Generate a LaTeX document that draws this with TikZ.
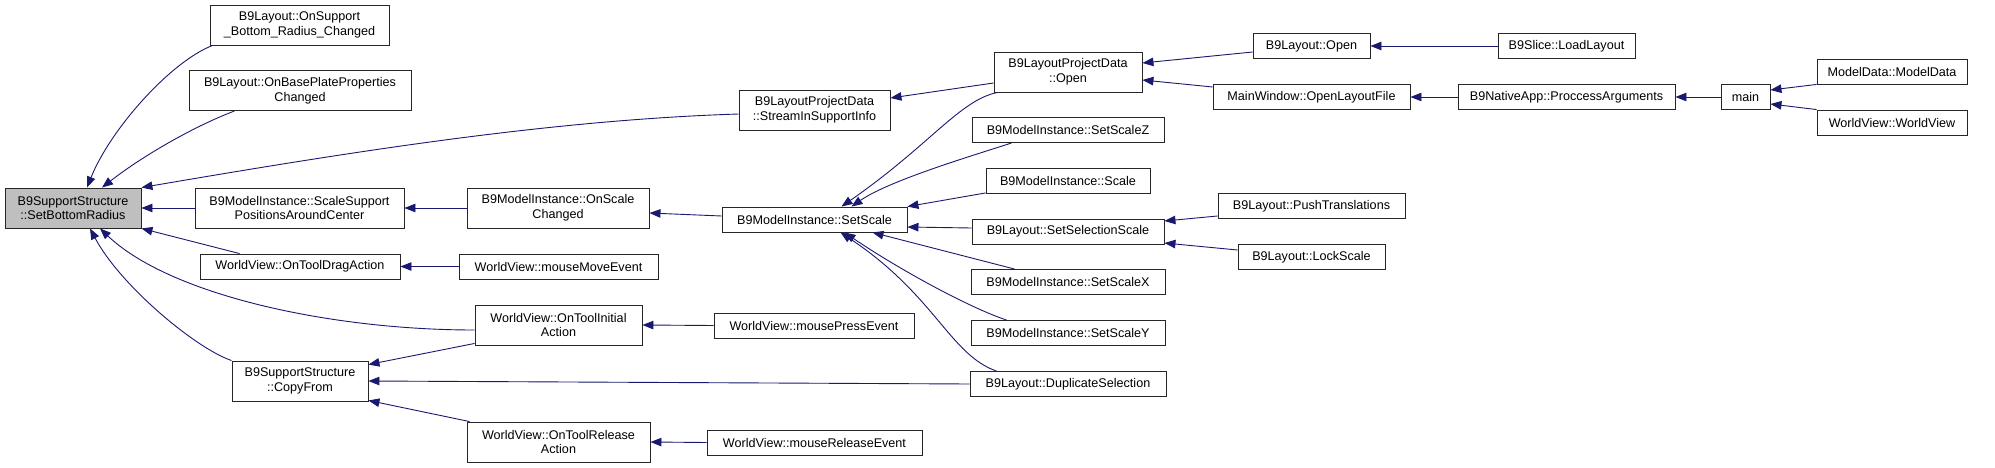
\documentclass[tikz,border=0pt]{standalone}
\usepackage{fontspec}
\setmainfont{Liberation Sans}
\usepackage{tikz}
\usetikzlibrary{arrows.meta,positioning,calc}
\definecolor{edgeblue}{HTML}{191970}
\definecolor{rootgray}{HTML}{BFBFBF}

\begin{document}
\begin{tikzpicture}[x=1pt, y=-1pt,
    fn/.style={draw=black!85, line width=0.9pt, rectangle, inner sep=0pt, align=center, font=\fontsize{12.6}{14.6}\selectfont, minimum height=25pt},
    fntwo/.style={fn, minimum height=40pt},
    root/.style={fntwo, fill=rootgray},
    call/.style={draw=edgeblue, line width=0.9pt, -{Triangle[length=11pt,width=8.5pt]}}
]
\useasboundingbox (0,0) rectangle (1995,468);

\node[root, minimum width=136pt] (sbr) at (73,208) {B9SupportStructure\\::SetBottomRadius};
\node[fntwo, minimum width=179pt] (osbrc) at (299.5,25) {B9Layout::OnSupport\\\_Bottom\_Radius\_Changed};
\node[fntwo, minimum width=222pt] (obpp) at (300,90.5) {B9Layout::OnBasePlateProperties\\Changed};
\node[fntwo, minimum width=209pt] (ssp) at (299.5,208) {B9ModelInstance::ScaleSupport\\PositionsAroundCenter};
\node[fn, minimum width=200pt] (otda) at (300,266.5) {WorldView::OnToolDragAction};
\node[fntwo, minimum width=136pt] (cf) at (300,381) {B9SupportStructure\\::CopyFrom};

\node[fntwo, minimum width=151pt] (sisi) at (814.5,110) {B9LayoutProjectData\\::StreamInSupportInfo};
\node[fntwo, minimum width=182pt] (osc) at (558,208) {B9ModelInstance::OnScale\\Changed};
\node[fn, minimum width=199pt] (mme) at (558.5,266.5) {WorldView::mouseMoveEvent};
\node[fntwo, minimum width=167pt] (otia) at (558.5,325) {WorldView::OnToolInitial\\Action};
\node[fntwo, minimum width=183pt] (otra) at (558.5,442) {WorldView::OnToolRelease\\Action};

\node[fn, minimum width=185pt] (ss) at (814.5,219.5) {B9ModelInstance::SetScale};
\node[fn, minimum width=200pt] (mpe) at (814,325.5) {WorldView::mousePressEvent};
\node[fn, minimum width=215pt] (mre) at (814.5,442.5) {WorldView::mouseReleaseEvent};

\node[fntwo, minimum width=148pt] (lpdo) at (1068,72) {B9LayoutProjectData\\::Open};
\node[fn, minimum width=192pt] (ssz) at (1068,130) {B9ModelInstance::SetScaleZ};
\node[fn, minimum width=164pt] (sc) at (1068,181) {B9ModelInstance::Scale};
\node[fn, minimum width=192pt] (sss) at (1068,231.5) {B9Layout::SetSelectionScale};
\node[fn, minimum width=194pt] (ssx) at (1068,282) {B9ModelInstance::SetScaleX};
\node[fn, minimum width=194pt] (ssy) at (1068,333) {B9ModelInstance::SetScaleY};
\node[fn, minimum width=196pt] (dsel) at (1068,384) {B9Layout::DuplicateSelection};

\node[fn, minimum width=117pt] (lo) at (1311.5,46) {B9Layout::Open};
\node[fn, minimum width=197pt] (olf) at (1311.5,97) {MainWindow::OpenLayoutFile};
\node[fn, minimum width=187pt] (pt) at (1311.5,206) {B9Layout::PushTranslations};
\node[fn, minimum width=147pt] (ls) at (1311.5,257) {B9Layout::LockScale};

\node[fn, minimum width=137pt] (ll) at (1566.5,46) {B9Slice::LoadLayout};
\node[fn, minimum width=217pt] (pa) at (1566.5,97) {B9NativeApp::ProccessArguments};
\node[fn, minimum width=49pt] (mn) at (1745.5,97) {main};
\node[fn, minimum width=150pt] (md) at (1892,71.5) {ModelData::ModelData};
\node[fn, minimum width=150pt] (wv) at (1892,122.5) {WorldView::WorldView};

\draw[call] ([xshift=3pt]osbrc.south west) .. controls (170,62) and (110,130) .. ([xshift=14pt]sbr.north);
\draw[call] ([xshift=46pt]obpp.south west) .. controls (190,128) and (140,158) .. ([xshift=29pt]sbr.north);
\draw[call] ([yshift=-4pt]sisi.west) .. controls (550,120) and (350,152) .. (sbr.north east);
\draw[call] (ssp.west) -- (sbr.east);
\draw[call] ([xshift=40pt]otda.north west) -- (sbr.south east);
\draw[call] ([yshift=-5pt]otia.west) .. controls (330,330) and (170,295) .. ([xshift=27pt]sbr.south);
\draw[call] (cf.north west) .. controls (195,348) and (120,285) .. ([xshift=17pt]sbr.south);

\draw[call] ([yshift=2pt]otia.south west) -- ([yshift=-4pt]cf.north east);
\draw[call] (dsel.west) -- (cf.east);
\draw[call] ([xshift=3pt]otra.north west) -- ([yshift=1pt]cf.south east);

\draw[call] (osc.west) -- (ssp.east);
\draw[call] ([yshift=3.5pt]ss.west) -- ([yshift=-5pt]osc.east);
\draw[call] (mme.west) -- (otda.east);
\draw[call] (mpe.west) -- (otia.east);
\draw[call] (mre.west) -- (otra.east);

\draw[call] ([yshift=-11pt]lpdo.west) -- ([yshift=12pt]sisi.east);
\draw[call] ([xshift=4pt]lpdo.south west) .. controls (960,100) and (930,145) .. ([xshift=27pt]ss.north);
\draw[call] ([xshift=40pt]ssz.south west) .. controls (975,155) and (890,180) .. ([xshift=37pt]ss.north);
\draw[call] ([yshift=1pt]sc.south west) -- (ss.north east);
\draw[call] ([yshift=3.5pt]sss.west) -- ([yshift=-7.5pt]ss.east);
\draw[call] ([xshift=44pt]ssx.north west) -- ([xshift=58pt]ss.south);
\draw[call] ([xshift=36pt]ssy.north west) .. controls (970,308) and (900,270) .. ([xshift=30pt]ss.south);
\draw[call] ([xshift=27pt]dsel.north west) .. controls (950,355) and (935,295) .. ([xshift=26pt]ss.south);

\draw[call] ([yshift=-6pt]lo.west) -- ([yshift=9pt]lpdo.east);
\draw[call] ([yshift=10pt]olf.west) -- ([yshift=-8pt]lpdo.east);
\draw[call] ([yshift=-10pt]pt.west) -- ([yshift=10.5pt]sss.east);
\draw[call] ([yshift=7pt]ls.west) -- ([yshift=-11.5pt]sss.east);

\draw[call] (ll.west) -- (lo.east);
\draw[call] (pa.west) -- (olf.east);
\draw[call] (mn.west) -- (pa.east);
\draw[call] (md.south west) -- ([yshift=7pt]mn.east);
\draw[call] (wv.north west) -- ([yshift=-7pt]mn.east);

\end{tikzpicture}
\end{document}
